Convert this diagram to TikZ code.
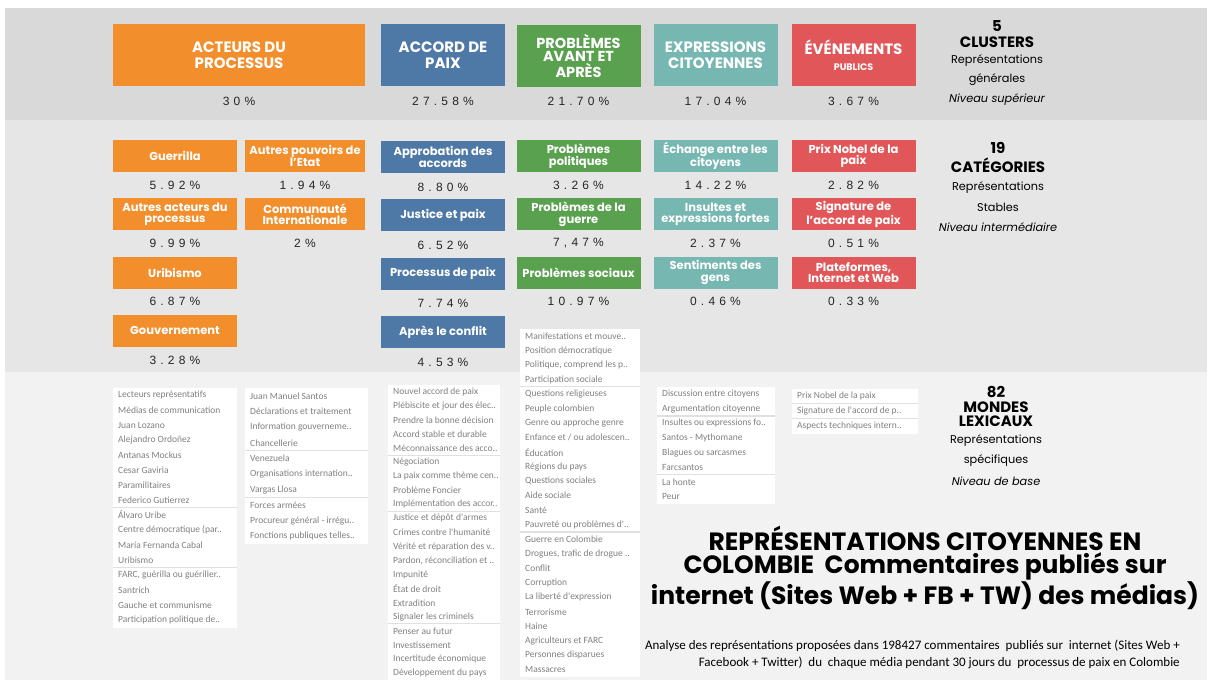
\documentclass[tikz,border=0pt]{standalone}
\usepackage{fontspec}
\setmainfont{Poppins}
\newfontfamily\listfont{Carlito}
\newfontfamily\pctfont[LetterSpace=35]{Liberation Sans}
\usetikzlibrary{positioning}

\definecolor{actorange}{HTML}{F28E2B}
\definecolor{accblue}{HTML}{4E79A7}
\definecolor{probgreen}{HTML}{59A14F}
\definecolor{exprteal}{HTML}{76B7B2}
\definecolor{evtred}{HTML}{E15759}
\definecolor{bandtop}{HTML}{D9D9D9}
\definecolor{bandmid}{HTML}{E6E6E6}
\definecolor{bandlow}{HTML}{F2F2F2}
\definecolor{lexgray}{HTML}{808080}

% one column of lexical worlds: name, x, width, first y, step, count, separators, items
\newcommand{\lexcol}[8]{%
  \fill[white] (#2,{#4-0.5*#5}) rectangle ({#2+#3},{#4+(#6-0.5)*#5});
  \foreach \s in {#7} {\draw[lexsep] (#2,{#4+(\s-0.5)*#5}) -- ++(#3,0);}
  \foreach \itm [count=\i] in {#8} {\node[lexitem] (#1-\i) at ({#2+5},{#4+(\i-1)*#5}) {\itm};}
}

\begin{document}
\begin{tikzpicture}[x=1pt,y=-1pt,
  clusterbox/.style={fill=#1,text=white,font=\bfseries\fontsize{15}{15.5}\selectfont,
    align=center,minimum height=62pt,minimum width=124pt,inner sep=0pt},
  catbox/.style={fill=#1,text=white,font=\bfseries\fontsize{11.5}{11.5}\selectfont,
    align=center,minimum height=32pt,minimum width=124pt,inner sep=0pt},
  pct/.style={font=\pctfont\fontsize{12}{13}\selectfont,text=black!85,inner sep=0pt},
  lexitem/.style={anchor=west,font=\listfont\fontsize{9.5}{10}\selectfont,text=lexgray,inner sep=0pt},
  lexsep/.style={draw=black!12,line width=1.2pt},
  sidehead/.style={font=\bfseries\fontsize{15}{15}\selectfont,inner sep=0pt},
  sidetext/.style={font=\fontsize{11.3}{11}\selectfont,inner sep=0pt},
  sideital/.style={font=\itshape\fontsize{11.3}{11}\selectfont,inner sep=0pt}]
\useasboundingbox (0,0) rectangle (1212,684);
\fill[white] (0,0) rectangle (1212,684);
% Bands for the three levels
\fill[bandtop] (5,8) rectangle (1207,120);
\fill[bandmid] (5,120) rectangle (1207,372);
\fill[bandlow] (5,372) rectangle (1207,680);

% Clusters
\node[clusterbox=actorange,minimum width=252pt] (clu-act) at (239,55) {ACTEURS DU\\PROCESSUS};
\node[clusterbox=accblue] (clu-acc) at (443,55) {ACCORD DE\\PAIX};
\node[clusterbox=probgreen,font=\bfseries\fontsize{14.5}{13}\selectfont] (clu-prob) at (578.5,56) {PROBLÈMES\\AVANT ET\\APRÈS};
\node[clusterbox=exprteal] (clu-expr) at (715.5,55) {EXPRESSIONS\\CITOYENNES};
\node[clusterbox=evtred] (clu-evt) at (853.5,55) {ÉVÉNEMENTS\\{\fontsize{9.5}{10}\selectfont PUBLICS}};
\node[pct] (pct-act) at (239,101) {30\%};
\node[pct] (pct-acc) at (443,101) {27.58\%};
\node[pct] (pct-prob) at (578.5,101) {21.70\%};
\node[pct] (pct-expr) at (715.5,101) {17.04\%};
\node[pct] (pct-evt) at (853.5,101) {3.67\%};

% Categories
\foreach \lbl/\val [count=\r] in {Guerrilla/5.92\%, {Autres acteurs du\\processus}/9.99\%,
    Uribismo/6.87\%, Gouvernement/3.28\%} {
  \node[catbox=actorange] (cat-oa-\r) at (175,{156+58.3*(\r-1)}) {\lbl};
  \node[pct] (pct-oa-\r) at (175,{185+58.3*(\r-1)}) {\val};
}
\foreach \lbl/\val [count=\r] in {{Autres pouvoirs de\\l'Etat}/1.94\%, {Communauté\\Internationale}/2\%} {
  \node[catbox=actorange,minimum width=120pt] (cat-ob-\r) at (305,{156+58.3*(\r-1)}) {\lbl};
  \node[pct] (pct-ob-\r) at (305,{185+58.3*(\r-1)}) {\val};
}
\foreach \lbl/\val [count=\r] in {{Approbation des\\accords}/8.80\%, Justice et paix/6.52\%,
    Processus de paix/7.74\%, Après le conflit/4.53\%} {
  \node[catbox=accblue] (cat-acc-\r) at (443,{157+58.3*(\r-1)}) {\lbl};
  \node[pct] (pct-acc-\r) at (443,{187+58.3*(\r-1)}) {\val};
}
\foreach \lbl/\val [count=\r] in {{Problèmes\\politiques}/3.26\%, {Problèmes de la\\guerre}/{7,47\%},
    Problèmes sociaux/10.97\%} {
  \node[catbox=probgreen] (cat-prob-\r) at (578.5,{156+58.3*(\r-1)}) {\lbl};
  \node[pct] (pct-prob-\r) at (578.5,{185+58.3*(\r-1)}) {\val};
}
\foreach \lbl/\val [count=\r] in {{Échange entre les\\citoyens}/14.22\%, {Insultes et\\expressions fortes}/2.37\%,
    {Sentiments des\\gens}/0.46\%} {
  \node[catbox=exprteal] (cat-expr-\r) at (715.5,{156+58.3*(\r-1)}) {\lbl};
  \node[pct] (pct-expr-\r) at (715.5,{185+58.3*(\r-1)}) {\val};
}
\foreach \lbl/\val [count=\r] in {{Prix Nobel de la\\paix}/2.82\%, {Signature de\\l'accord de paix}/0.51\%,
    {Plateformes,\\Internet et Web}/0.33\%} {
  \node[catbox=evtred] (cat-evt-\r) at (853.5,{156+58.3*(\r-1)}) {\lbl};
  \node[pct] (pct-evt-\r) at (853.5,{185+58.3*(\r-1)}) {\val};
}

% Lexical worlds
\lexcol{lex-oa}{113}{124}{395}{15}{16}{8,12}{Lecteurs représentatifs, Médias de communication,
  Juan Lozano, Alejandro Ordoñez, Antanas Mockus, Cesar Gaviria, Paramilitaires, Federico Gutierrez,
  Álvaro Uribe, {Centre démocratique (par..}, María Fernanda Cabal, Uribismo,
  {FARC, guérilla ou guériller..}, Santrich, Gauche et communisme, Participation politique de..}
\lexcol{lex-ob}{245}{123}{396}{15.6}{10}{4,7}{Juan Manuel Santos, Déclarations et traitement,
  Information gouverneme.., Chancellerie, Venezuela, Organisations internation.., Vargas Llosa,
  Forces armées, Procureur général - irrégu.., Fonctions publiques telles..}
\lexcol{lex-acc}{388}{112}{392}{14.05}{21}{5,9,17}{Nouvel accord de paix, Plébiscite et jour des élec..,
  Prendre la bonne décision, Accord stable et durable, Méconnaissance des acco.., Négociation,
  La paix comme thème cen.., Problème Foncier, Implémentation des accor.., Justice et dépôt d'armes,
  Crimes contre l'humanité, Vérité et réparation des v.., {Pardon, réconciliation et ..}, Impunité,
  État de droit, Extradition, Signaler les criminels, Penser au futur, Investissement,
  Incertitude économique, Développement du pays}
\lexcol{lex-prob}{520}{120}{336}{14.52}{24}{4,14}{Manifestations et mouve.., Position démocratique,
  {Politique, comprend les p..}, Participation sociale, Questions religieuses, Peuple colombien,
  Genre ou approche genre, {Enfance et / ou adolescen..}, Éducation, Régions du pays,
  Questions sociales, Aide sociale, Santé, Pauvreté ou problèmes d'.., Guerre en Colombie,
  {Drogues, trafic de drogue ..}, Conflit, Corruption, La liberté d'expression, Terrorisme, Haine,
  Agriculteurs et FARC, Personnes disparues, Massacres}
\lexcol{lex-expr}{657}{118}{394}{14.7}{8}{2,6}{Discussion entre citoyens, Argumentation citoyenne,
  Insultes ou expressions fo.., Santos - Mythomane, Blagues ou sarcasmes, Farcsantos, La honte, Peur}
\lexcol{lex-evt}{792}{126}{396}{15}{3}{1,2}{Prix Nobel de la paix, Signature de l'accord de p..,
  Aspects techniques intern..}

% Level legends on the right
\node[sidehead] (lvl1-num) at (997,26) {5};
\node[sidehead] (lvl1-head) at (997,42) {CLUSTERS};
\node[sidetext] (lvl1-a) at (997,61) {Représentations};
\node[sidetext] (lvl1-b) at (997,80) {générales};
\node[sideital] (lvl1-c) at (997,100) {Niveau supérieur};
\node[sidehead] (lvl2-num) at (998,148) {19};
\node[sidehead] (lvl2-head) at (998,165) {CATÉGORIES};
\node[sidetext] (lvl2-a) at (998,188) {Représentations};
\node[sidetext] (lvl2-b) at (998,207) {Stables};
\node[sideital] (lvl2-c) at (998,227) {Niveau intermédiaire};
\node[sidehead] (lvl3-num) at (996,392) {82};
\node[sidehead] (lvl3-head) at (996,414) [align=center,font=\bfseries\fontsize{15}{14}\selectfont] {MONDES\\LEXICAUX};
\node[sidetext] (lvl3-a) at (996,441) {Représentations};
\node[sidetext] (lvl3-b) at (996,461) {spécifiques};
\node[sideital] (lvl3-c) at (996,481) {Niveau de base};

% Title and subtitle
\node[align=center,font=\bfseries\fontsize{25}{23}\selectfont,inner sep=0pt] (title) at (925,568)
  {REPRÉSENTATIONS CITOYENNES EN\\COLOMBIE\ \ Commentaires publiés sur\\internet (Sites Web + FB + TW) des médias)};
\node[align=right,anchor=east,font=\listfont\fontsize{13}{17}\selectfont,inner sep=0pt] (subtitle) at (1180,654)
  {Analyse des représentations proposées dans 198427 commentaires\ \ publiés sur\ \ internet (Sites Web +\\
   Facebook + Twitter)\ \ du\ \ chaque média pendant 30 jours du\ \ processus de paix en Colombie};
\end{tikzpicture}
\end{document}
